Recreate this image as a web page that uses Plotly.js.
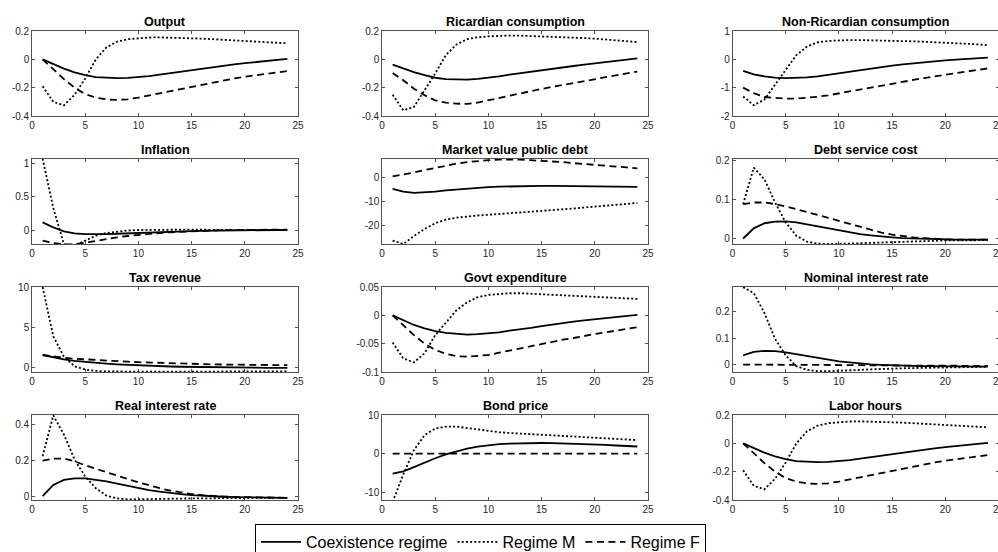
<!DOCTYPE html>
<html><head><meta charset="utf-8">
<script src="https://cdn.plot.ly/plotly-3.0.1.min.js"></script>
<style>html,body{margin:0;padding:0;overflow:hidden;background:#fff}#chart{width:1034px;height:552px}</style>
</head><body><div id="chart"></div><script>
// ---- data ----
const periods = [1,2,3,4,5,6,7,8,9,10,11,12,13,14,15,16,17,18,19,20,21,22,23,24];
const seriesNames = ["Coexistence regime", "Regime M", "Regime F"];
const panelTitles = ["Output","Ricardian consumption","Non-Ricardian consumption","Inflation","Market value public debt","Debt service cost","Tax revenue","Govt expenditure","Nominal interest rate","Real interest rate","Bond price","Labor hours"];

const output_coex = [0,-0.035,-0.066,-0.092,-0.112,-0.125,-0.131,-0.133,-0.131,-0.126,-0.118,-0.108,-0.097,-0.086,-0.075,-0.064,-0.055,-0.045,-0.036,-0.027,-0.019,-0.012,-0.004,0.003];
const output_M = [-0.19,-0.3,-0.325,-0.25,-0.135,0.0,0.085,0.125,0.142,0.15,0.154,0.155,0.154,0.152,0.149,0.146,0.142,0.138,0.134,0.13,0.126,0.122,0.118,0.113];
const output_F = [0,-0.07,-0.14,-0.2,-0.245,-0.27,-0.283,-0.286,-0.282,-0.27,-0.255,-0.238,-0.222,-0.206,-0.19,-0.175,-0.161,-0.148,-0.135,-0.123,-0.112,-0.102,-0.092,-0.083];

const ric_coex = [-0.038,-0.066,-0.09,-0.112,-0.13,-0.14,-0.144,-0.143,-0.138,-0.13,-0.12,-0.108,-0.097,-0.086,-0.075,-0.065,-0.056,-0.047,-0.038,-0.027,-0.019,-0.011,-0.003,0.006];
const ric_M = [-0.25,-0.36,-0.336,-0.22,-0.1,0.03,0.105,0.142,0.156,0.162,0.166,0.168,0.167,0.165,0.162,0.159,0.156,0.153,0.15,0.146,0.141,0.136,0.13,0.122];
const ric_F = [-0.097,-0.148,-0.207,-0.254,-0.29,-0.306,-0.313,-0.314,-0.305,-0.29,-0.275,-0.258,-0.241,-0.224,-0.207,-0.194,-0.181,-0.168,-0.155,-0.143,-0.129,-0.114,-0.1,-0.086];

const nonric_coex = [-0.41,-0.53,-0.6,-0.645,-0.66,-0.655,-0.635,-0.6,-0.545,-0.48,-0.425,-0.37,-0.318,-0.268,-0.22,-0.178,-0.138,-0.1,-0.068,-0.04,-0.013,0.01,0.035,0.06];
const nonric_M = [-1.31,-1.62,-1.42,-0.9,-0.38,0.15,0.45,0.6,0.65,0.67,0.68,0.68,0.675,0.665,0.655,0.645,0.635,0.62,0.605,0.59,0.57,0.55,0.53,0.5];
const nonric_F = [-1.0,-1.19,-1.33,-1.37,-1.39,-1.385,-1.36,-1.32,-1.27,-1.2,-1.13,-1.06,-0.99,-0.92,-0.85,-0.785,-0.72,-0.66,-0.6,-0.54,-0.485,-0.43,-0.375,-0.32];

const infl_coex = [0.115,0.04,-0.02,-0.05,-0.062,-0.065,-0.062,-0.056,-0.049,-0.042,-0.036,-0.03,-0.025,-0.02,-0.016,-0.012,-0.009,-0.007,-0.005,-0.003,-0.002,-0.001,0,0];
const infl_M = [1.07,0.33,-0.21,-0.23,-0.16,-0.085,-0.045,-0.022,-0.008,0.0,0.004,0.006,0.006,0.005,0.004,0.003,0.002,0.002,0.001,0.001,0,0,0,0];
const infl_F = [-0.16,-0.195,-0.215,-0.215,-0.19,-0.16,-0.135,-0.11,-0.09,-0.073,-0.058,-0.045,-0.034,-0.025,-0.017,-0.011,-0.006,-0.002,0.001,0.003,0.005,0.006,0.006,0.006];

const debt_coex = [-4.8,-5.9,-6.4,-6.3,-5.9,-5.4,-5.0,-4.6,-4.3,-4.05,-3.85,-3.7,-3.6,-3.55,-3.55,-3.55,-3.6,-3.65,-3.7,-3.75,-3.8,-3.85,-3.9,-3.95];
const debt_M = [-26.2,-27.6,-24.3,-21.4,-19.0,-17.5,-16.7,-16.1,-15.8,-15.5,-15.2,-14.9,-14.6,-14.3,-14.0,-13.6,-13.3,-12.9,-12.5,-12.2,-11.8,-11.4,-11.0,-10.6];
const debt_F = [0.4,1.1,2.0,3.0,4.0,4.9,5.7,6.3,6.8,7.1,7.3,7.35,7.3,7.1,6.9,6.6,6.3,5.9,5.6,5.2,4.8,4.5,4.1,3.7];

const dsc_coex = [0.0,0.026,0.039,0.043,0.044,0.041,0.036,0.031,0.025,0.02,0.015,0.011,0.008,0.005,0.003,0.001,0.0,-0.001,-0.002,-0.002,-0.003,-0.003,-0.003,-0.003];
const dsc_M = [0.088,0.181,0.151,0.092,0.041,0.007,-0.008,-0.013,-0.014,-0.014,-0.013,-0.012,-0.011,-0.01,-0.009,-0.008,-0.007,-0.006,-0.006,-0.005,-0.005,-0.005,-0.004,-0.004];
const dsc_F = [0.088,0.092,0.092,0.088,0.082,0.075,0.068,0.061,0.053,0.045,0.037,0.029,0.022,0.015,0.01,0.006,0.003,0.001,-0.001,-0.002,-0.003,-0.003,-0.003,-0.003];

const tax_coex = [1.6,1.3,1.05,0.88,0.74,0.63,0.53,0.45,0.38,0.32,0.27,0.22,0.18,0.15,0.12,0.1,0.08,0.06,0.05,0.04,0.03,0.02,0.01,0.0];
const tax_M = [10.0,3.9,1.4,0.2,-0.2,-0.36,-0.42,-0.45,-0.46,-0.47,-0.47,-0.47,-0.46,-0.46,-0.45,-0.45,-0.44,-0.44,-0.43,-0.43,-0.42,-0.42,-0.41,-0.41];
const tax_F = [1.6,1.4,1.26,1.14,1.05,0.97,0.9,0.83,0.77,0.71,0.66,0.61,0.57,0.53,0.5,0.47,0.44,0.42,0.4,0.38,0.37,0.36,0.35,0.34];

const govt_coex = [0,-0.009,-0.017,-0.023,-0.028,-0.031,-0.033,-0.034,-0.033,-0.032,-0.03,-0.027,-0.025,-0.022,-0.019,-0.016,-0.014,-0.011,-0.009,-0.007,-0.005,-0.003,-0.001,0.001];
const govt_M = [-0.048,-0.076,-0.083,-0.067,-0.035,-0.013,0.009,0.023,0.032,0.036,0.038,0.039,0.039,0.038,0.038,0.037,0.036,0.035,0.034,0.033,0.032,0.031,0.03,0.029];
const govt_F = [0,-0.018,-0.035,-0.05,-0.061,-0.068,-0.072,-0.073,-0.072,-0.07,-0.066,-0.062,-0.058,-0.054,-0.05,-0.046,-0.043,-0.04,-0.036,-0.033,-0.03,-0.027,-0.024,-0.021];

const nom_coex = [0.035,0.048,0.052,0.051,0.046,0.039,0.031,0.024,0.018,0.012,0.008,0.004,0.001,-0.001,-0.003,-0.004,-0.005,-0.006,-0.006,-0.007,-0.007,-0.007,-0.008,-0.008];
const nom_M = [0.292,0.27,0.195,0.097,0.035,-0.006,-0.02,-0.025,-0.025,-0.024,-0.022,-0.02,-0.018,-0.016,-0.015,-0.014,-0.013,-0.012,-0.011,-0.01,-0.01,-0.009,-0.009,-0.009];
const nom_F = [0,0,0,0,0,0,0,0,0,0,-0.001,-0.002,-0.003,-0.003,-0.004,-0.004,-0.005,-0.005,-0.005,-0.005,-0.005,-0.005,-0.005,-0.005];

const real_coex = [0.004,0.065,0.093,0.102,0.102,0.095,0.085,0.073,0.06,0.048,0.037,0.028,0.02,0.014,0.009,0.005,0.002,0.0,-0.002,-0.003,-0.004,-0.005,-0.005,-0.006];
const real_M = [0.224,0.45,0.344,0.206,0.112,0.047,0.006,-0.009,-0.015,-0.015,-0.014,-0.012,-0.011,-0.01,-0.009,-0.008,-0.008,-0.007,-0.007,-0.006,-0.006,-0.006,-0.006,-0.006];
const real_F = [0.2,0.211,0.211,0.196,0.174,0.154,0.136,0.117,0.098,0.08,0.063,0.047,0.034,0.024,0.015,0.009,0.004,0.001,-0.001,-0.003,-0.004,-0.005,-0.005,-0.006];

const bond_coex = [-5.2,-4.6,-3.5,-2.3,-1.2,-0.2,0.6,1.3,1.8,2.2,2.45,2.6,2.7,2.75,2.75,2.7,2.65,2.55,2.45,2.35,2.25,2.1,2.0,1.85];
const bond_M = [-12.5,-5.4,0.9,4.8,6.5,7.0,7.0,6.6,6.2,5.8,5.55,5.35,5.2,5.05,4.9,4.75,4.6,4.45,4.3,4.15,4.0,3.85,3.7,3.5];
const bond_F = [0,0,0,0,0,0,0,0,0,0,0,0,0,0,0,0,0,0,0,0,0,0,0,0];

const labor_coex = [0,-0.035,-0.066,-0.092,-0.112,-0.125,-0.131,-0.133,-0.131,-0.126,-0.118,-0.108,-0.097,-0.086,-0.075,-0.064,-0.055,-0.045,-0.036,-0.027,-0.019,-0.012,-0.004,0.003];
const labor_M = [-0.19,-0.3,-0.325,-0.25,-0.135,0.0,0.085,0.125,0.142,0.15,0.154,0.155,0.154,0.152,0.149,0.146,0.142,0.138,0.134,0.13,0.126,0.122,0.118,0.113];
const labor_F = [0,-0.07,-0.14,-0.2,-0.245,-0.27,-0.283,-0.286,-0.282,-0.27,-0.255,-0.238,-0.222,-0.206,-0.19,-0.175,-0.161,-0.148,-0.135,-0.123,-0.112,-0.102,-0.092,-0.083];

const xTickVals = [0,5,10,15,20,25];
const xTickText = ["0","5","10","15","20","25"];

const yTickVals = [
  [-0.4,-0.2,0,0.2],[-0.4,-0.2,0,0.2],[-2,-1,0,1],
  [0,0.5,1],[-20,-10,0],[0,0.1,0.2],
  [0,5,10],[-0.1,-0.05,0,0.05],[0,0.1,0.2],
  [0,0.2,0.4],[-10,0,10],[-0.4,-0.2,0,0.2]
];
const yTickText = [
  ["-0.4","-0.2","0","0.2"],["-0.4","-0.2","0","0.2"],["-2","-1","0","1"],
  ["0","0.5","1"],["-20","-10","0"],["0","0.1","0.2"],
  ["0","5","10"],["-0.1","-0.05","0","0.05"],["0","0.1","0.2"],
  ["0","0.2","0.4"],["-10","0","10"],["-0.4","-0.2","0","0.2"]
];
const yRanges = [
  [-0.4,0.2],[-0.4,0.2],[-2,1],
  [-0.21,1.065],[-27.6,7.6],[-0.014,0.203],
  [-0.5,10],[-0.1,0.05],[-0.028,0.293],
  [-0.018,0.452],[-12,10],[-0.4,0.2]
];

const panelData = [
  [output_coex, output_M, output_F],
  [ric_coex, ric_M, ric_F],
  [nonric_coex, nonric_M, nonric_F],
  [infl_coex, infl_M, infl_F],
  [debt_coex, debt_M, debt_F],
  [dsc_coex, dsc_M, dsc_F],
  [tax_coex, tax_M, tax_F],
  [govt_coex, govt_M, govt_F],
  [nom_coex, nom_M, nom_F],
  [real_coex, real_M, real_F],
  [bond_coex, bond_M, bond_F],
  [labor_coex, labor_M, labor_F]
];

// ---- layout geometry (pixels) ----
const W = 1034, H = 552;
const colLeft = [32, 382, 732.5], colWidth = 266;
const rowTop = [31, 159, 287, 415], rowHeight = 85;
const FONT = "Liberation Sans, Arial, Helvetica, sans-serif";
const AXC = "#262626";
const lineStyles = [
  {dash: "solid", width: 1.8},
  {dash: "2px,2.2px", width: 1.8},
  {dash: "7px,4.5px", width: 1.8}
];

const traces = [];
const layout = {
  width: W, height: H,
  margin: {l: 0, r: 0, t: 0, b: 0, autoexpand: false},
  paper_bgcolor: "#fff", plot_bgcolor: "#fff",
  font: {family: FONT, size: 10, color: AXC},
  showlegend: true,
  legend: {
    orientation: "h",
    x: 255 / W, xanchor: "left",
    y: 1 - 524 / H, yanchor: "top",
    bordercolor: "#000", borderwidth: 1, bgcolor: "#fff",
    font: {family: FONT, size: 16, color: "#000"},
    itemwidth: 40, tracegroupgap: 0
  },
  annotations: []
};

for (let i = 0; i < 12; i++) {
  const r = Math.floor(i / 3), c = i % 3;
  const sfx = i === 0 ? "" : String(i + 1);
  const xd = [colLeft[c] / W, (colLeft[c] + colWidth) / W];
  const yd = [1 - (rowTop[r] + rowHeight) / H, 1 - rowTop[r] / H];
  for (let s = 0; s < 3; s++) {
    traces.push({
      type: "scatter", mode: "lines",
      x: periods, y: panelData[i][s],
      xaxis: "x" + sfx, yaxis: "y" + sfx,
      name: seriesNames[s], showlegend: i === 0,
      line: {color: "#000", width: lineStyles[s].width, dash: lineStyles[s].dash},
      hoverinfo: "skip"
    });
  }
  const common = {
    showline: true, linecolor: AXC, linewidth: 0.8, mirror: "allticks",
    ticks: "inside", ticklen: 3, tickwidth: 0.8, tickcolor: AXC,
    showgrid: false, zeroline: false, fixedrange: true,
    tickfont: {family: FONT, size: 10, color: AXC}, tickmode: "array"
  };
  layout["xaxis" + sfx] = Object.assign({}, common, {
    domain: xd, anchor: "y" + sfx, range: [0, 25],
    tickvals: xTickVals, ticktext: xTickText
  });
  layout["yaxis" + sfx] = Object.assign({}, common, {
    domain: yd, anchor: "x" + sfx, range: yRanges[i],
    tickvals: yTickVals[i], ticktext: yTickText[i]
  });
  layout.annotations.push({
    xref: "paper", yref: "paper",
    x: (xd[0] + xd[1]) / 2, y: yd[1],
    xanchor: "center", yanchor: "bottom", yshift: 0,
    text: "<b>" + panelTitles[i] + "</b>", showarrow: false,
    font: {family: FONT, size: 12.5, color: "#000"}
  });
}

Plotly.newPlot("chart", traces, layout, {staticPlot: true, displayModeBar: false});
</script></body></html>
